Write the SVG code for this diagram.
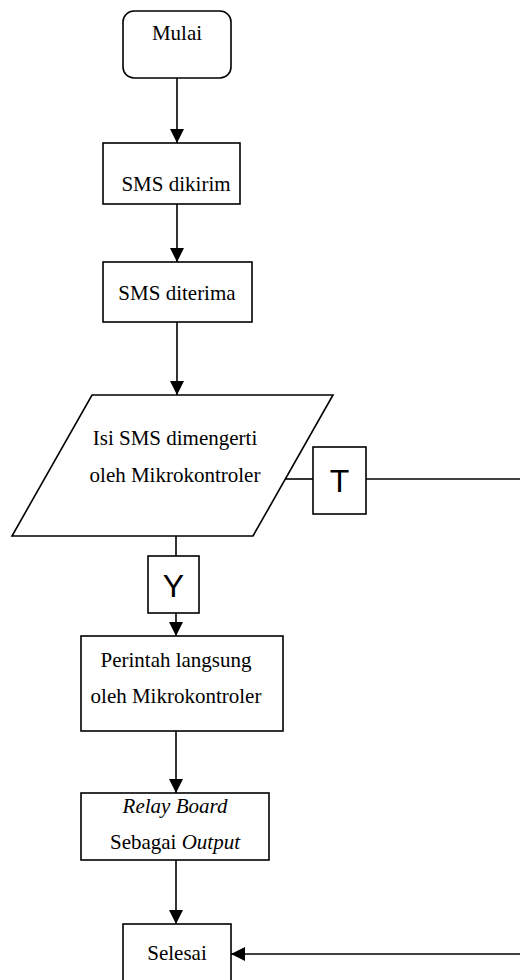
<svg xmlns="http://www.w3.org/2000/svg" width="520" height="980" viewBox="0 0 520 980">
<style>
.s{fill:#fff;stroke:#000;stroke-width:1.6}
.t{font-family:"Liberation Serif","Times New Roman",serif;font-size:21px;fill:#000;text-anchor:middle}
.l{font-family:"Liberation Sans",Arial,sans-serif;font-size:32px;fill:#000;text-anchor:middle}
.c{fill:none;stroke:#000;stroke-width:1.6}
</style>
<defs>
<marker id="a" viewBox="0 0 14 14" refX="14" refY="7" markerWidth="14" markerHeight="14" markerUnits="userSpaceOnUse" orient="auto">
<path d="M0,0 L14,7 L0,14 Z" fill="#000"/>
</marker>
</defs>
<g id="connectors">
<line class="c" x1="177" y1="78" x2="177" y2="143" marker-end="url(#a)"/>
<line class="c" x1="177" y1="204" x2="177" y2="262" marker-end="url(#a)"/>
<line class="c" x1="177" y1="322" x2="177" y2="395" marker-end="url(#a)"/>
<line class="c" x1="286" y1="479" x2="313" y2="479"/>
<line class="c" x1="366" y1="479" x2="520" y2="479"/>
<line class="c" x1="176" y1="536" x2="176" y2="556"/>
<line class="c" x1="176" y1="613" x2="176" y2="636" marker-end="url(#a)"/>
<line class="c" x1="176" y1="731" x2="176" y2="793" marker-end="url(#a)"/>
<line class="c" x1="176" y1="860" x2="176" y2="924" marker-end="url(#a)"/>
<line class="c" x1="520" y1="954" x2="231" y2="954" marker-end="url(#a)"/>
</g>
<g id="mulai">
<rect class="s" x="123" y="11" width="108" height="67" rx="11"/>
<text class="t" x="177" y="40">Mulai</text>
</g>
<g id="sms-dikirim">
<rect class="s" x="103" y="143" width="137" height="61"/>
<text class="t" x="176" y="191">SMS dikirim</text>
</g>
<g id="sms-diterima">
<rect class="s" x="103" y="262" width="149" height="60"/>
<text class="t" x="177" y="300">SMS diterima</text>
</g>
<g id="isi-sms">
<polygon class="s" points="92,395 333,395 253,536 12,536"/>
<text class="t" x="175" y="445">Isi SMS dimengerti</text>
<text class="t" x="175" y="482">oleh Mikrokontroler</text>
</g>
<g id="label-t">
<rect class="s" x="313" y="447" width="53" height="67"/>
<text class="l" x="339.5" y="492">T</text>
</g>
<g id="label-y">
<rect class="s" x="148" y="556" width="51" height="57"/>
<text class="l" x="173.5" y="597">Y</text>
</g>
<g id="perintah">
<rect class="s" x="81" y="636" width="202" height="95"/>
<text class="t" x="176" y="667">Perintah langsung</text>
<text class="t" x="176" y="703">oleh Mikrokontroler</text>
</g>
<g id="relay">
<rect class="s" x="81" y="793" width="188" height="67"/>
<text class="t" x="175" y="813" font-style="italic">Relay Board</text>
<text class="t" x="175" y="849">Sebagai <tspan font-style="italic">Output</tspan></text>
</g>
<g id="selesai">
<rect class="s" x="123" y="924" width="108" height="70"/>
<text class="t" x="177" y="960">Selesai</text>
</g>
</svg>
